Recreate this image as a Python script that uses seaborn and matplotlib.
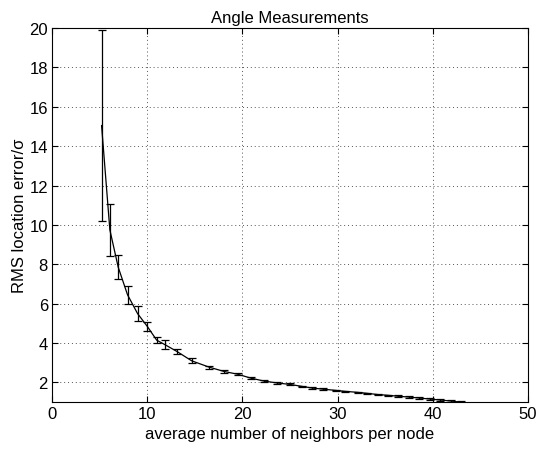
import matplotlib
matplotlib.use("Agg")
import matplotlib.pyplot as plt
import seaborn as sns
import pandas as pd

# values
neighbors = [5.2, 6.07, 6.95, 7.93, 8.98, 10.0, 10.99, 11.86, 13.1, 14.67,
             16.5, 18.07, 19.5, 20.9, 22.3, 23.6, 25.0, 26.3, 27.3, 28.5,
             29.8, 30.8, 32.1, 33.1, 34.2, 35.3, 36.4, 37.5, 38.6, 39.7,
             40.8, 41.9, 43.0]
rms_error = [15.05, 9.75, 7.85, 6.45, 5.5, 4.85, 4.15, 3.92, 3.58, 3.1,
             2.78, 2.56, 2.42, 2.22, 2.07, 1.98, 1.90, 1.80, 1.72, 1.66,
             1.60, 1.55, 1.50, 1.45, 1.39, 1.35, 1.30, 1.26, 1.21, 1.16,
             1.11, 1.06, 1.0]
rms_std = [4.83, 1.32, 0.6, 0.45, 0.38, 0.23, 0.17, 0.23, 0.11, 0.12,
           0.07, 0.07, 0.06, 0.06, 0.05, 0.05, 0.05, 0.04, 0.04, 0.04,
           0.04, 0.04, 0.04, 0.04, 0.04, 0.04, 0.04, 0.04, 0.04, 0.04,
           0.04, 0.04, 0.04]

df = pd.DataFrame({"n": neighbors, "err": rms_error, "std": rms_std})

sns.set_style("ticks")
plt.rcParams['font.family'] = ['Liberation Sans', 'DejaVu Sans']
plt.rcParams['text.color'] = 'black'
plt.rcParams['axes.labelcolor'] = 'black'

fig = plt.figure(figsize=(5.37, 4.52), dpi=100)
ax = fig.add_axes([0.097, 0.108, 0.886, 0.828])

sns.lineplot(data=df, x="n", y="err", color="black", linewidth=0.9, ax=ax)
ax.errorbar(df["n"], df["err"], yerr=df["std"], fmt="none", ecolor="black",
            elinewidth=0.9, capsize=3, capthick=0.9)

ax.set_xlim(0, 50)
ax.set_ylim(1, 20)
ax.set_xticks([0, 10, 20, 30, 40, 50])
ax.set_yticks(range(2, 21, 2))
ax.grid(True, color="#555555", linestyle=(0, (1, 3)), linewidth=0.7)
ax.tick_params(direction="in", length=4, labelsize=12, top=True, right=True,
               labeltop=False, labelright=False, pad=3, colors="black")
for s in ax.spines.values():
    s.set_visible(True)
    s.set_linewidth(0.8)
    s.set_color("black")

ax.set_title("Angle Measurements", fontsize=12, pad=4, color="black")
ax.set_xlabel("average number of neighbors per node", fontsize=12, labelpad=3)
ax.set_ylabel("RMS location error/σ", fontsize=12, labelpad=2)

fig.savefig("out.png", dpi=100)
